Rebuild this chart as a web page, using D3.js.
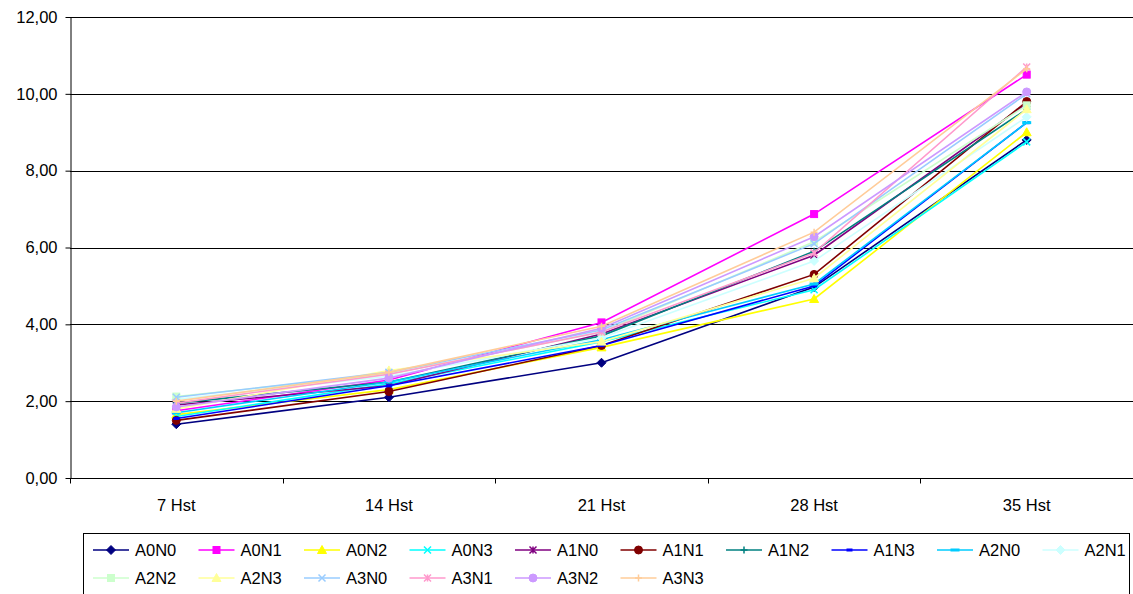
<!DOCTYPE html>
<html>
<head>
<meta charset="utf-8">
<script src="https://cdn.jsdelivr.net/npm/d3@7"></script>
<style>
  html, body { margin: 0; padding: 0; background: #fff; }
  svg { display: block; font-family: "Liberation Sans", Arial, sans-serif; }
</style>
</head>
<body>
<svg id="chart" width="1133" height="594"></svg>
<script>
// Sampling days
const categories = ["7 Hst", "14 Hst", "21 Hst", "28 Hst", "35 Hst"];
const yTicks = [0, 2, 4, 6, 8, 10, 12];

// Treatment series (values per sampling day)
const A0N0 = [1.40, 2.10, 3.00, 4.97, 8.80];
const A0N1 = [1.75, 2.55, 4.05, 6.87, 10.50];
const A0N2 = [1.65, 2.30, 3.40, 4.66, 9.00];
const A0N3 = [1.60, 2.45, 3.55, 4.90, 8.75];
const A1N0 = [1.90, 2.40, 3.75, 5.80, 9.75];
const A1N1 = [1.50, 2.25, 3.45, 5.30, 9.80];
const A1N2 = [1.95, 2.50, 3.70, 5.90, 9.60];
const A1N3 = [1.55, 2.40, 3.45, 5.00, 9.25];
const A2N0 = [1.70, 2.50, 3.60, 5.05, 9.25];
const A2N1 = [2.05, 2.65, 3.65, 5.65, 9.40];
const A2N2 = [2.12, 2.70, 3.80, 6.15, 9.70];
const A2N3 = [1.80, 2.80, 3.55, 5.20, 9.60];
const A3N0 = [2.10, 2.75, 3.85, 6.10, 10.00];
const A3N1 = [1.95, 2.70, 3.80, 5.86, 10.70];
const A3N2 = [1.85, 2.60, 3.90, 6.28, 10.05];
const A3N3 = [2.00, 2.75, 3.95, 6.40, 10.65];

const series = [
  { name: "A0N0", values: A0N0, color: "#000080", marker: "diamond" },
  { name: "A0N1", values: A0N1, color: "#FF00FF", marker: "square" },
  { name: "A0N2", values: A0N2, color: "#FFFF00", marker: "triangle" },
  { name: "A0N3", values: A0N3, color: "#00FFFF", marker: "x" },
  { name: "A1N0", values: A1N0, color: "#800080", marker: "star" },
  { name: "A1N1", values: A1N1, color: "#800000", marker: "circle" },
  { name: "A1N2", values: A1N2, color: "#008080", marker: "plus" },
  { name: "A1N3", values: A1N3, color: "#0000FF", marker: "dash" },
  { name: "A2N0", values: A2N0, color: "#00CCFF", marker: "longdash" },
  { name: "A2N1", values: A2N1, color: "#CCFFFF", marker: "diamond" },
  { name: "A2N2", values: A2N2, color: "#CCFFCC", marker: "square" },
  { name: "A2N3", values: A2N3, color: "#FFFF99", marker: "triangle" },
  { name: "A3N0", values: A3N0, color: "#99CCFF", marker: "x" },
  { name: "A3N1", values: A3N1, color: "#FF99CC", marker: "star" },
  { name: "A3N2", values: A3N2, color: "#CC99FF", marker: "circle" },
  { name: "A3N3", values: A3N3, color: "#FFCC99", marker: "plus" }
];

const FONT = 16.5;
const svg = d3.select("#chart");
const margin = { left: 70, right: 1133, top: 17, bottom: 478 };

const x = d3.scaleBand().domain(categories).range([margin.left, margin.right]);
const y = d3.scaleLinear().domain([0, 12]).range([margin.bottom, margin.top]);

// Horizontal gridlines
svg.append("g")
  .selectAll("line")
  .data(yTicks.filter(d => d > 0))
  .join("line")
  .attr("x1", margin.left).attr("x2", margin.right)
  .attr("y1", d => Math.round(y(d)) + 0.5).attr("y2", d => Math.round(y(d)) + 0.5)
  .attr("stroke", "#000").attr("stroke-width", 1);

// Y axis
const yAxis = svg.append("g")
  .attr("transform", `translate(${margin.left + 0.5},0)`)
  .call(d3.axisLeft(y).tickValues(yTicks).tickSize(5).tickSizeOuter(0)
    .tickFormat(d => d3.format(".2f")(d).replace(".", ",")));
yAxis.select(".domain").attr("stroke", "#000");
yAxis.selectAll(".tick line").attr("stroke", "#000");
yAxis.selectAll(".tick text").attr("font-size", FONT).attr("fill", "#000")
  .attr("font-family", "Liberation Sans, Arial, sans-serif").attr("x", -13);

// X axis with tick marks at category boundaries
const xAxis = svg.append("g")
  .attr("transform", `translate(0,${Math.round(y(0)) + 0.5})`);
xAxis.append("line")
  .attr("x1", margin.left).attr("x2", margin.right)
  .attr("stroke", "#000");
const boundaries = categories.map(c => x(c)).concat([x(categories[categories.length - 1]) + x.bandwidth()]);
xAxis.selectAll("line.tk")
  .data(boundaries)
  .join("line").attr("class", "tk")
  .attr("x1", d => Math.round(d) + 0.5).attr("x2", d => Math.round(d) + 0.5)
  .attr("y1", 0).attr("y2", 5)
  .attr("stroke", "#000");
xAxis.selectAll("text")
  .data(categories)
  .join("text")
  .attr("x", d => x(d) + x.bandwidth() / 2)
  .attr("y", 32)
  .attr("text-anchor", "middle")
  .attr("font-size", FONT)
  .attr("fill", "#000")
  .text(d => d);

// Marker drawing
function drawMarker(g, type, color, cx, cy) {
  const s = 3.5;
  switch (type) {
    case "diamond":
      g.append("path").attr("d", `M${cx},${cy - 4.5}L${cx + 4.5},${cy}L${cx},${cy + 4.5}L${cx - 4.5},${cy}Z`)
        .attr("fill", color).attr("stroke", color);
      break;
    case "square":
      g.append("rect").attr("x", cx - s).attr("y", cy - s).attr("width", 2 * s).attr("height", 2 * s)
        .attr("fill", color).attr("stroke", color);
      break;
    case "triangle":
      g.append("path").attr("d", `M${cx},${cy - 4.5}L${cx + 4.5},${cy + 3.5}L${cx - 4.5},${cy + 3.5}Z`)
        .attr("fill", color).attr("stroke", color);
      break;
    case "x":
      g.append("path").attr("d", `M${cx - s},${cy - s}L${cx + s},${cy + s}M${cx - s},${cy + s}L${cx + s},${cy - s}`)
        .attr("stroke", color).attr("stroke-width", 1.5).attr("fill", "none");
      break;
    case "star":
      g.append("path").attr("d", `M${cx - s},${cy - s}L${cx + s},${cy + s}M${cx - s},${cy + s}L${cx + s},${cy - s}M${cx},${cy - s}L${cx},${cy + s}`)
        .attr("stroke", color).attr("stroke-width", 1.5).attr("fill", "none");
      break;
    case "circle":
      g.append("circle").attr("cx", cx).attr("cy", cy).attr("r", 4)
        .attr("fill", color).attr("stroke", color);
      break;
    case "plus":
      g.append("path").attr("d", `M${cx - s},${cy}L${cx + s},${cy}M${cx},${cy - s}L${cx},${cy + s}`)
        .attr("stroke", color).attr("stroke-width", 1.5).attr("fill", "none");
      break;
    case "dash":
      g.append("rect").attr("x", cx - 3).attr("y", cy - 1.5).attr("width", 6).attr("height", 3)
        .attr("fill", color);
      break;
    case "longdash":
      g.append("rect").attr("x", cx - 4.5).attr("y", cy - 1.5).attr("width", 9).attr("height", 3)
        .attr("fill", color);
      break;
  }
}

// Series lines and markers
const line = d3.line()
  .x((d, i) => x(categories[i]) + x.bandwidth() / 2)
  .y(d => y(d));

const plot = svg.append("g");
series.forEach(s => {
  const g = plot.append("g");
  g.append("path")
    .attr("d", line(s.values))
    .attr("fill", "none")
    .attr("stroke", s.color)
    .attr("stroke-width", 1.6);
  s.values.forEach((v, i) => {
    drawMarker(g, s.marker, s.color, x(categories[i]) + x.bandwidth() / 2, y(v));
  });
});

// Legend
const legend = svg.append("g");
legend.append("rect")
  .attr("x", 83.5).attr("y", 533.5)
  .attr("width", 1046).attr("height", 80)
  .attr("fill", "#fff").attr("stroke", "#000");
const perRow = 10;
series.forEach((s, i) => {
  const col = i % perRow, row = Math.floor(i / perRow);
  const tx = 135 + col * 105.5;
  const ty = 550 + row * 28;
  const g = legend.append("g");
  g.append("line")
    .attr("x1", tx - 42).attr("x2", tx - 6)
    .attr("y1", ty).attr("y2", ty)
    .attr("stroke", s.color).attr("stroke-width", 1.6);
  drawMarker(g, s.marker, s.color, tx - 24, ty);
  g.append("text")
    .attr("x", tx).attr("y", ty + 6)
    .attr("font-size", FONT).attr("fill", "#000")
    .text(s.name);
});
</script>
</body>
</html>
